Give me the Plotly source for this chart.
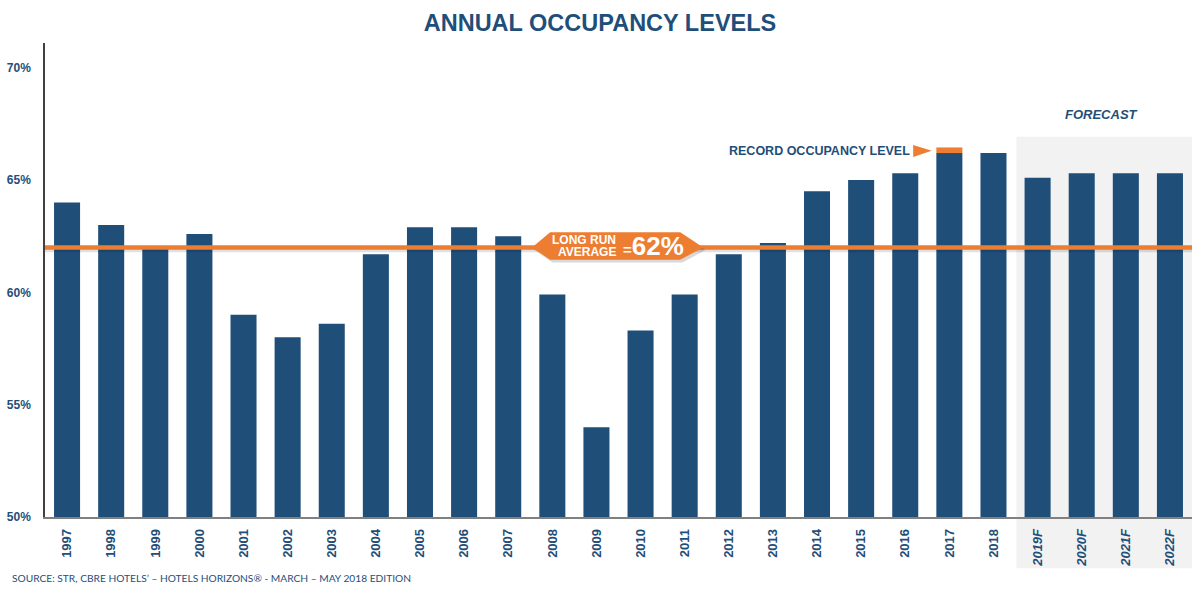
import plotly.graph_objects as go

years = ["1997", "1998", "1999", "2000", "2001", "2002", "2003", "2004", "2005", "2006",
         "2007", "2008", "2009", "2010", "2011", "2012", "2013", "2014", "2015", "2016",
         "2017", "2018", "2019F", "2020F", "2021F", "2022F"]
occupancy = [64.0, 63.0, 62.0, 62.6, 59.0, 58.0, 58.6, 61.7, 62.9, 62.9,
             62.5, 59.9, 54.0, 58.3, 59.9, 61.7, 62.2, 64.5, 65.0, 65.3,
             66.2, 66.2, 65.1, 65.3, 65.3, 65.3]
record_year = "2017"
record_cap = 0.25
long_run_avg = 62.0
y_ticks = [50, 55, 60, 65, 70]
y_labels = ["50%", "55%", "60%", "65%", "70%"]

NAVY = "#1F4E79"
ORANGE = "#ED7D31"
FONT = "Liberation Sans, Arial, sans-serif"

idx = list(range(len(years)))
tick_text = [f"<i>{y}</i>" if y.endswith("F") else y for y in years]
rec_i = years.index(record_year)
first_fc = next(i for i, y in enumerate(years) if y.endswith("F"))

fig = go.Figure()
fig.add_trace(go.Bar(x=idx, y=[v - 50 for v in occupancy], base=50, width=0.59,
                     marker=dict(color=NAVY, line=dict(width=0)), hoverinfo="skip"))
fig.add_trace(go.Bar(x=[rec_i], y=[record_cap], base=[occupancy[rec_i]], width=0.59,
                     marker=dict(color=ORANGE, line=dict(width=0)), hoverinfo="skip"))

shapes = []
# forecast shading
shapes.append(dict(type="rect", xref="x", yref="paper", x0=first_fc - 0.48, x1=len(years) - 0.5,
                   y0=-0.108, y1=0.802, fillcolor="#F2F2F2", line=dict(width=0), layer="below"))
# average line shadow + line
shapes.append(dict(type="line", xref="x", yref="y", x0=-0.5, x1=len(years) - 0.48,
                   y0=long_run_avg - 0.1, y1=long_run_avg - 0.1,
                   line=dict(color="rgba(0,0,0,0.12)", width=5), layer="above"))
shapes.append(dict(type="line", xref="x", yref="y", x0=-0.5, x1=len(years) - 0.48,
                   y0=long_run_avg, y1=long_run_avg,
                   line=dict(color=ORANGE, width=4.5), layer="above"))
# badge
bx0, bx1, bx2, bx3 = 10.54, 10.95, 13.9, 14.42
yt, yb = long_run_avg + 0.68, long_run_avg - 0.55
shapes.append(dict(type="path", xref="x", yref="y",
                   path=f"M {bx0+0.05},{long_run_avg-0.12} L {bx1+0.05},{yt-0.12} L {bx2+0.05},{yt-0.12} L {bx3+0.05},{long_run_avg-0.12} L {bx2+0.05},{yb-0.12} L {bx1+0.05},{yb-0.12} Z",
                   fillcolor="rgba(0,0,0,0.15)", line=dict(width=0), layer="above"))
shapes.append(dict(type="path", xref="x", yref="y",
                   path=f"M {bx0},{long_run_avg} L {bx1},{yt} L {bx2},{yt} L {bx3},{long_run_avg} L {bx2},{yb} L {bx1},{yb} Z",
                   fillcolor=ORANGE, line=dict(width=0), layer="above"))
# record arrow
shapes.append(dict(type="path", xref="x", yref="y",
                   path=f"M {rec_i-0.82},{66.56} L {rec_i-0.4},{66.3} L {rec_i-0.82},{66.03} Z",
                   fillcolor=ORANGE, line=dict(width=0), layer="above"))

annotations = [
    dict(text="<b>LONG RUN</b>", x=12.49, y=62.33, xref="x", yref="y",
         xanchor="right", yanchor="middle", showarrow=False,
         font=dict(family=FONT, size=12, color="white")),
    dict(text="<b>AVERAGE</b>", x=12.49, y=61.80, xref="x", yref="y",
         xanchor="right", yanchor="middle", showarrow=False,
         font=dict(family=FONT, size=12, color="white")),
    dict(text="<b><span style='font-size:15px'>=</span>62%</b>", x=12.55, y=long_run_avg + 0.07,
         xref="x", yref="y", xanchor="left", yanchor="middle", showarrow=False,
         font=dict(family=FONT, size=26, color="white")),
    dict(text="<b>RECORD OCCUPANCY LEVEL</b>", x=rec_i - 0.85, y=66.3, xref="x", yref="y",
         xanchor="right", yanchor="middle", showarrow=False,
         font=dict(family=FONT, size=12.5, color=NAVY)),
    dict(text="<b><i>FORECAST</i></b>", x=(first_fc - 0.48 + len(years) - 0.5) / 2 - 0.07,
         y=1.0 - (114 - 43) / 474,
         xref="x", yref="paper", xanchor="center", yanchor="middle", showarrow=False,
         font=dict(family=FONT, size=13, color=NAVY)),
    dict(text="SOURCE: STR, CBRE HOTELS’ – HOTELS HORIZONS® - MARCH – MAY 2018 EDITION",
         x=(10 - 45) / 1147, y=(517 - 578) / 474, xref="paper", yref="paper", showarrow=False,
         xanchor="left", yanchor="middle",
         font=dict(family="Lato, Liberation Sans, sans-serif", size=10.2, color=NAVY)),
]

fig.update_layout(
    width=1200, height=594,
    margin=dict(l=45, r=8, t=43, b=77),
    paper_bgcolor="white", plot_bgcolor="rgba(0,0,0,0)",
    showlegend=False, barmode="overlay",
    title=dict(text="<b>ANNUAL OCCUPANCY LEVELS</b>", x=0.5, xanchor="center", y=1 - 23 / 594,
               yanchor="middle", font=dict(family=FONT, size=23.5, color=NAVY)),
    font=dict(family=FONT, color=NAVY),
    shapes=shapes, annotations=annotations,
    xaxis=dict(range=[-0.5, len(years) - 0.5], tickvals=idx, ticktext=tick_text, tickangle=-90,
               showgrid=False, zeroline=False, showline=True, linecolor="#808080", linewidth=1.5,
               ticks="", tickfont=dict(family=FONT, size=13, color=NAVY, weight="bold"),
               ticklabelstandoff=5),
    yaxis=dict(range=[50, 71.1], tickvals=y_ticks, ticktext=y_labels, showgrid=False,
               zeroline=False, showline=True, linecolor="#404040", linewidth=1.5, ticks="",
               tickfont=dict(family=FONT, size=12, color=NAVY, weight="bold"),
               ticklabelstandoff=10),
)

fig.write_html("out.html")
